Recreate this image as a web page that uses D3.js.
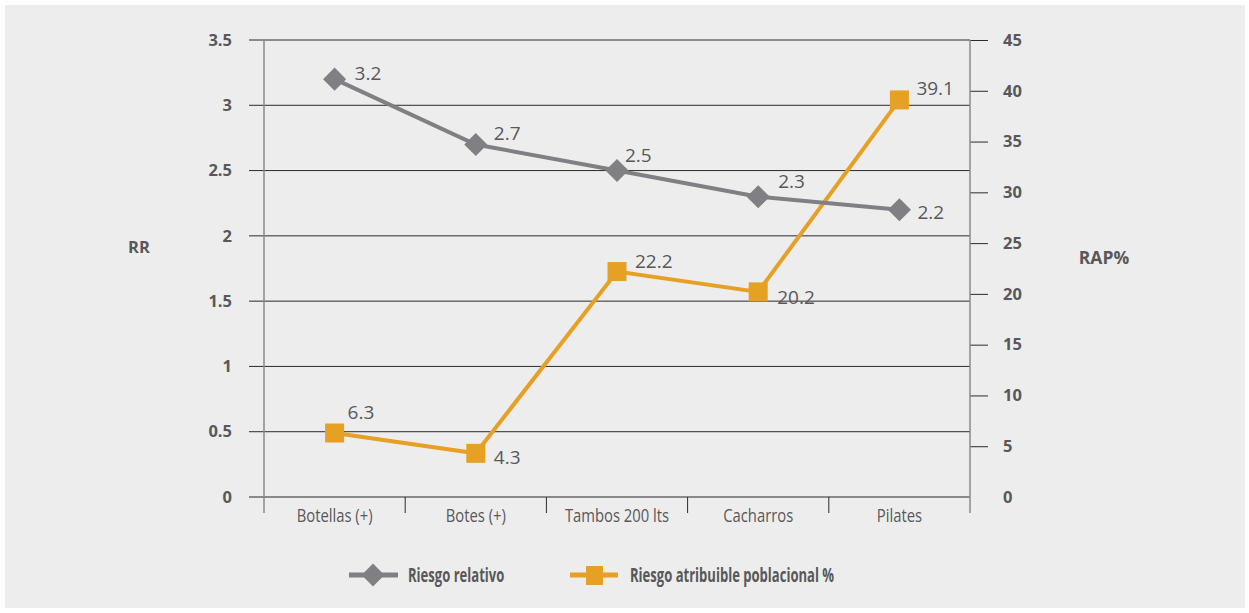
<!DOCTYPE html>
<html>
<head>
<meta charset="utf-8">
<script src="https://cdn.jsdelivr.net/npm/d3@7"></script>
<style>
  html, body { margin: 0; padding: 0; background: #ffffff; }
  svg { display: block; }
</style>
</head>
<body>
<svg id="chart" width="1249" height="613"></svg>
<script>
// Categories and series
const categories = ["Botellas (+)", "Botes (+)", "Tambos 200 lts", "Cacharros", "Pilates"];
const rrValues = [3.2, 2.7, 2.5, 2.3, 2.2];
const rapValues = [6.3, 4.3, 22.2, 20.2, 39.1];
const rrTicks = [0, 0.5, 1, 1.5, 2, 2.5, 3, 3.5];
const rapTicks = [0, 5, 10, 15, 20, 25, 30, 35, 40, 45];
const seriesNames = ["Riesgo relativo", "Riesgo atribuible poblacional %"];

const grey = "#808084", orange = "#e6a024", textCol = "#58585a";
const regular = "'Open Sans', 'Noto Sans', sans-serif";

const svg = d3.select("#chart");
svg.append("rect").attr("x", 5).attr("y", 5).attr("width", 1240).attr("height", 603)
  .attr("fill", "#ededed");

const plot = { left: 264, right: 970, top: 40, bottom: 497 };

const x = d3.scaleBand().domain(categories).range([plot.left, plot.right]);
const yL = d3.scaleLinear().domain([0, 3.5]).range([plot.bottom, plot.top]);
const yR = d3.scaleLinear().domain([0, 45]).range([plot.bottom, plot.top]);

// Horizontal gridlines at left-axis ticks
svg.append("g").selectAll("line").data(rrTicks.filter(d => d > 0)).join("line")
  .attr("x1", plot.left - 15).attr("x2", plot.right)
  .attr("y1", d => yL(d)).attr("y2", d => yL(d))
  .attr("stroke", "#2b2b2b").attr("stroke-width", 1);

// Baseline
svg.append("line").attr("x1", plot.left - 15).attr("x2", plot.right)
  .attr("y1", yL(0)).attr("y2", yL(0))
  .attr("stroke", "#8a8a8a").attr("stroke-width", 2);

// Left axis
const leftAxis = svg.append("g").attr("transform", `translate(${plot.left},0)`)
  .call(d3.axisLeft(yL).tickValues(rrTicks).tickSize(0).tickPadding(32)
    .tickFormat(d => d3.format("")(d)));
leftAxis.select(".domain").remove();
leftAxis.append("line").attr("x1", 0).attr("x2", 0).attr("y1", plot.top).attr("y2", plot.bottom + 16)
  .attr("stroke", "#8a8a8a").attr("stroke-width", 1.5);
leftAxis.selectAll("text").attr("font-family", regular).attr("font-weight", "bold")
  .attr("font-size", 16.5).attr("fill", textCol).attr("dy", "0.32em");

// Right axis
const rightAxis = svg.append("g").attr("transform", `translate(${plot.right},0)`)
  .call(d3.axisRight(yR).tickValues(rapTicks).tickSize(18).tickPadding(15));
rightAxis.select(".domain").remove();
rightAxis.selectAll(".tick line").attr("stroke", "#2b2b2b").attr("stroke-width", 1);
rightAxis.selectAll(".tick").filter(d => d === 0).select("line").remove();
rightAxis.append("line").attr("x1", 0).attr("x2", 0).attr("y1", plot.top).attr("y2", plot.bottom + 16)
  .attr("stroke", "#8a8a8a").attr("stroke-width", 1.5);
rightAxis.selectAll("text").attr("font-family", regular).attr("font-weight", "bold")
  .attr("font-size", 16.5).attr("fill", textCol).attr("dy", "0.32em");

// Category axis (narrow lettering)
const bottomAxis = svg.append("g").attr("transform", `translate(0,${plot.bottom})`)
  .call(d3.axisBottom(x).tickSize(0).tickPadding(12));
bottomAxis.select(".domain").remove();
bottomAxis.selectAll("text").attr("font-family", regular).attr("font-size", 18.5)
  .attr("fill", textCol).attr("transform", "scale(0.8,1)");
svg.append("g").selectAll("line").data(categories.slice(1)).join("line")
  .attr("x1", d => x(d)).attr("x2", d => x(d))
  .attr("y1", plot.bottom).attr("y2", plot.bottom + 16)
  .attr("stroke", "#2b2b2b").attr("stroke-width", 1);

// Axis titles
svg.append("text").attr("x", 139).attr("y", 247).attr("text-anchor", "middle")
  .attr("dy", "0.35em").attr("font-family", regular).attr("font-weight", "bold")
  .attr("font-size", 16.5).attr("fill", textCol).text("RR");
svg.append("text").attr("x", 1104).attr("y", 258).attr("text-anchor", "middle")
  .attr("dy", "0.35em").attr("font-family", regular).attr("font-weight", "bold")
  .attr("font-size", 17.5).attr("fill", textCol).text("RAP%");

const cx = d => x(d) + x.bandwidth() / 2;

// RAP% series
const rapData = categories.map((c, i) => ({ c, v: rapValues[i] }));
svg.append("path").datum(rapData)
  .attr("d", d3.line().x(d => cx(d.c)).y(d => yR(d.v)))
  .attr("fill", "none").attr("stroke", orange).attr("stroke-width", 4);
svg.append("g").selectAll("rect").data(rapData).join("rect")
  .attr("x", d => cx(d.c) - 9.5).attr("y", d => yR(d.v) - 9.5)
  .attr("width", 19).attr("height", 19).attr("fill", orange);

// RR series
const rrData = categories.map((c, i) => ({ c, v: rrValues[i] }));
svg.append("path").datum(rrData)
  .attr("d", d3.line().x(d => cx(d.c)).y(d => yL(d.v)))
  .attr("fill", "none").attr("stroke", grey).attr("stroke-width", 4);
const diamond = d3.symbol().type(d3.symbolDiamond2).size(340);
svg.append("g").selectAll("path").data(rrData).join("path")
  .attr("transform", d => `translate(${cx(d.c)},${yL(d.v)})`)
  .attr("d", diamond).attr("fill", grey);

// Value labels
const rrOffsets = [[20, -6], [18, -11], [8, -15], [20, -15], [18, 3]];
const rapOffsets = [[13, -21], [18, 4], [18, -10], [19, 5], [17, -12]];
const labelStyle = sel => sel.attr("font-family", regular).attr("font-size", 19)
  .attr("fill", textCol).attr("dy", "0.35em");
svg.append("g").selectAll("text").data(rrData).join("text")
  .attr("x", (d, i) => cx(d.c) + rrOffsets[i][0])
  .attr("y", (d, i) => yL(d.v) + rrOffsets[i][1])
  .call(labelStyle).text(d => d3.format(".1f")(d.v));
svg.append("g").selectAll("text").data(rapData).join("text")
  .attr("x", (d, i) => cx(d.c) + rapOffsets[i][0])
  .attr("y", (d, i) => yR(d.v) + rapOffsets[i][1])
  .call(labelStyle).text(d => d3.format(".1f")(d.v));

// Legend
const legend = svg.append("g").attr("transform", "translate(0,575)");
legend.append("line").attr("x1", 349).attr("x2", 398).attr("y1", 0).attr("y2", 0)
  .attr("stroke", grey).attr("stroke-width", 5);
legend.append("path").attr("transform", "translate(373,0)")
  .attr("d", d3.symbol().type(d3.symbolDiamond2).size(330)).attr("fill", grey);
legend.append("line").attr("x1", 570).attr("x2", 618).attr("y1", 0).attr("y2", 0)
  .attr("stroke", orange).attr("stroke-width", 5);
legend.append("rect").attr("x", 586).attr("y", -9).attr("width", 17).attr("height", 19)
  .attr("fill", orange);
[[408, seriesNames[0]], [630, seriesNames[1]]].forEach(([lx, name]) => {
  legend.append("g").attr("transform", `translate(${lx},0) scale(0.67,1)`)
    .append("text").attr("x", 0).attr("y", 0).attr("dy", "0.35em")
    .attr("font-family", regular).attr("font-weight", "bold").attr("font-size", 19.5)
    .attr("fill", textCol).text(name);
});
</script>
</body>
</html>
